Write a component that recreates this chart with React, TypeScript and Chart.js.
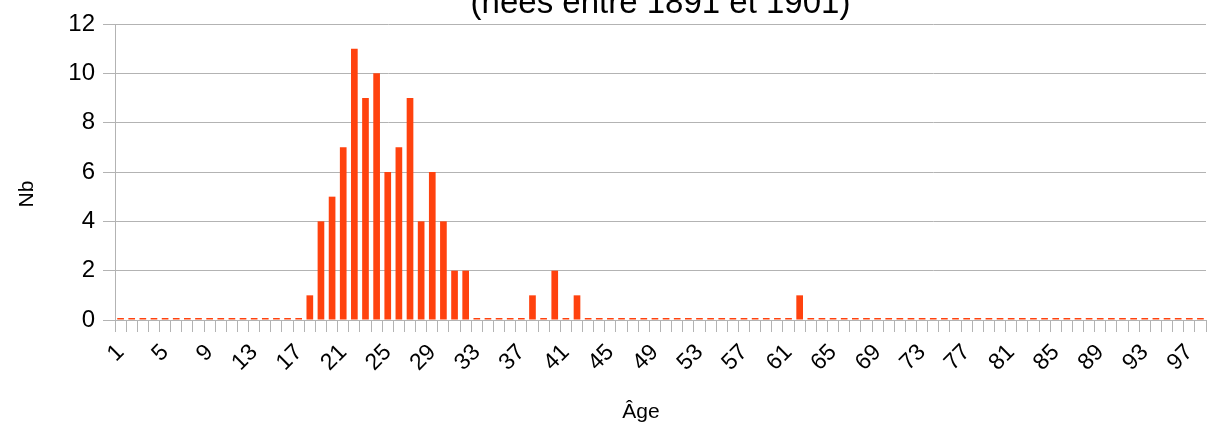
import { useEffect, useRef } from "react";
import { Chart, registerables } from "chart.js";

Chart.register(...registerables);

const ages = [
  "1", "2", "3", "4", "5", "6", "7", "8", "9", "10",
  "11", "12", "13", "14", "15", "16", "17", "18", "19", "20",
  "21", "22", "23", "24", "25", "26", "27", "28", "29", "30",
  "31", "32", "33", "34", "35", "36", "37", "38", "39", "40",
  "41", "42", "43", "44", "45", "46", "47", "48", "49", "50",
  "51", "52", "53", "54", "55", "56", "57", "58", "59", "60",
  "61", "62", "63", "64", "65", "66", "67", "68", "69", "70",
  "71", "72", "73", "74", "75", "76", "77", "78", "79", "80",
  "81", "82", "83", "84", "85", "86", "87", "88", "89", "90",
  "91", "92", "93", "94", "95", "96", "97", "98",
];

const counts = [
  0, 0, 0, 0, 0, 0, 0, 0, 0, 0,
  0, 0, 0, 0, 0, 0, 0, 1, 4, 5,
  7, 11, 9, 10, 6, 7, 9, 4, 6, 4,
  2, 2, 0, 0, 0, 0, 0, 1, 0, 2,
  0, 1, 0, 0, 0, 0, 0, 0, 0, 0,
  0, 0, 0, 0, 0, 0, 0, 0, 0, 0,
  0, 1, 0, 0, 0, 0, 0, 0, 0, 0,
  0, 0, 0, 0, 0, 0, 0, 0, 0, 0,
  0, 0, 0, 0, 0, 0, 0, 0, 0, 0,
  0, 0, 0, 0, 0, 0, 0, 0,
];

const yTicks = [0, 2, 4, 6, 8, 10, 12];

const chartTitle = "(nées entre 1891 et 1901)";
const yAxisTitle = "Nb";
const xAxisTitle = "Âge";

const FONT = '"Liberation Sans", Arial, sans-serif';

export default function App() {
  const ref = useRef<HTMLCanvasElement>(null);

  useEffect(() => {
    if (!ref.current) return;
    const titles = {
      id: "customTitles",
      afterDraw(chart: any) {
        const ctx = chart.ctx;
        const area = chart.chartArea;
        ctx.save();
        ctx.fillStyle = "#000000";
        ctx.font = `33px ${FONT}`;
        ctx.textAlign = "center";
        ctx.textBaseline = "alphabetic";
        ctx.fillText(chartTitle, (area.left + area.right) / 2, 13);

        ctx.font = `21px ${FONT}`;
        ctx.fillText(xAxisTitle, 641, 418);

        ctx.translate(27, 194);
        ctx.rotate(-Math.PI / 2);
        ctx.textBaseline = "middle";
        ctx.fillText(yAxisTitle, 0, 0);
        ctx.restore();
      },
    };

    const chart = new Chart(ref.current, {
      type: "bar",
      data: {
        labels: ages,
        datasets: [
          {
            data: counts,
            backgroundColor: "#ff420e",
            borderWidth: 0,
            barPercentage: 0.6,
            categoryPercentage: 1,
            minBarLength: 2,
          },
        ],
      },
      options: {
        responsive: false,
        animation: false,
        devicePixelRatio: 1,
        layout: { padding: { top: 24, right: 2, left: 0, bottom: 0 } },
        plugins: {
          legend: { display: false },
          tooltip: { enabled: false },
          title: { display: false },
        },
        scales: {
          x: {
            grid: {
              offset: true,
              drawOnChartArea: false,
              drawTicks: true,
              tickLength: 12,
              color: "#b3b3b3",
              lineWidth: 1,
            },
            border: { color: "#b3b3b3", width: 1 },
            ticks: {
              autoSkip: false,
              maxRotation: 45,
              minRotation: 45,
              color: "#000000",
              padding: 7,
              font: { family: FONT, size: 23 },
              callback: (_v: any, i: number) => (i % 4 === 0 ? ages[i] : ""),
            },
            afterFit: (s: any) => {
              s.height = 105;
              s.paddingRight = 0;
              s.paddingLeft = 0;
            },
          },
          y: {
            min: 0,
            max: 12,
            afterBuildTicks: (s: any) => {
              s.ticks = yTicks.map((v) => ({ value: v }));
            },
            grid: {
              color: "#b3b3b3",
              lineWidth: 1,
              tickLength: 12,
            },
            border: { color: "#b3b3b3", width: 1 },
            ticks: {
              color: "#000000",
              padding: 8,
              font: { family: FONT, size: 24 },
            },
            afterFit: (s: any) => {
              s.width = 115;
            },
          },
        },
      },
      plugins: [titles],
    });
    return () => chart.destroy();
  }, []);

  return (
    <div style={{ position: "absolute", left: 0, top: 0, width: 1208, height: 425 }}>
      <canvas ref={ref} width={1208} height={425} style={{ display: "block" }} />
    </div>
  );
}
